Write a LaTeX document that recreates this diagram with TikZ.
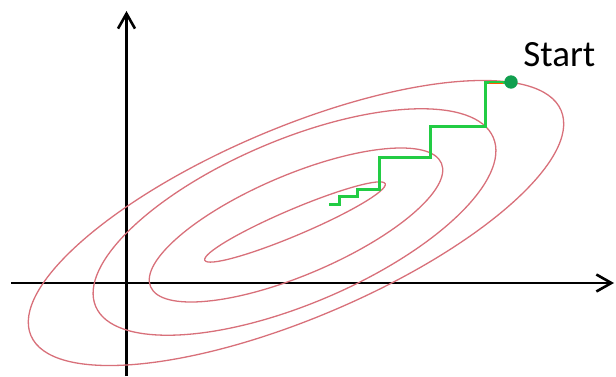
\documentclass[tikz,border=0pt]{standalone}
\usepackage{fontspec}
\setmainfont{Carlito}
\usepackage{xcolor}
\usepackage{tikz}
\usetikzlibrary{positioning, arrows.meta}
\definecolor{contourred}{HTML}{D8707A}
\definecolor{stepgreen}{HTML}{22CC44}
\definecolor{dotgreen}{HTML}{119F4F}

\begin{document}
\begin{tikzpicture}[x=0.5pt, y=0.5pt,
    axis/.style={line width=1.3pt, -{Straight Barb[length=7.5pt, width=8.5pt]}},
    contour/.style={draw=contourred, line width=0.65pt},
    descent/.style={draw=stepgreen, line width=1.5pt}]
    \useasboundingbox (0,0) rectangle (616,376);
    % axes
    \coordinate (xl) at (11,93);
    \coordinate (xr) at (614,93);
    \coordinate (yb) at (126.5,0);
    \coordinate (yt) at (126.5,365);
    \draw[axis] (xl) -- (xr);
    \draw[axis] (yb) -- (yt);
    % contour lines
    \draw[contour, rotate around={23:(296,153)}] (296,153) ellipse [x radius=288, y radius=95];
    \draw[contour, rotate around={23:(294.5,154)}] (294.5,154) ellipse [x radius=216, y radius=82];
    \draw[contour, rotate around={23:(296,151)}] (296,151) ellipse [x radius=158, y radius=50];
    \draw[contour, rotate around={23:(295,154)}] (295,154) ellipse [x radius=98, y radius=13];
    % descent steps
    \coordinate (s0) at (511,294);
    \coordinate (c1) at (485.3,249.3);
    \coordinate (c2) at (430.7,218.3);
    \coordinate (c3) at (379.3,186.7);
    \coordinate (c4) at (357.3,179.3);
    \coordinate (c5) at (339.3,172);
    \coordinate (sEnd) at (329.3,172);
    \draw[descent] (s0) -| (c1) -| (c2) -| (c3) -| (c4) -| (c5) -- (sEnd);
    \draw[draw={orange!70!red}, line width=0.6pt] (489,292.5) -- (503,292.5);
    \fill[dotgreen] (s0) circle [radius=6.7];
    \node[anchor=base west, inner sep=0pt, font=\fontsize{18.5}{20}\selectfont] (start) at (523,310) {Start};
\end{tikzpicture}
\end{document}
